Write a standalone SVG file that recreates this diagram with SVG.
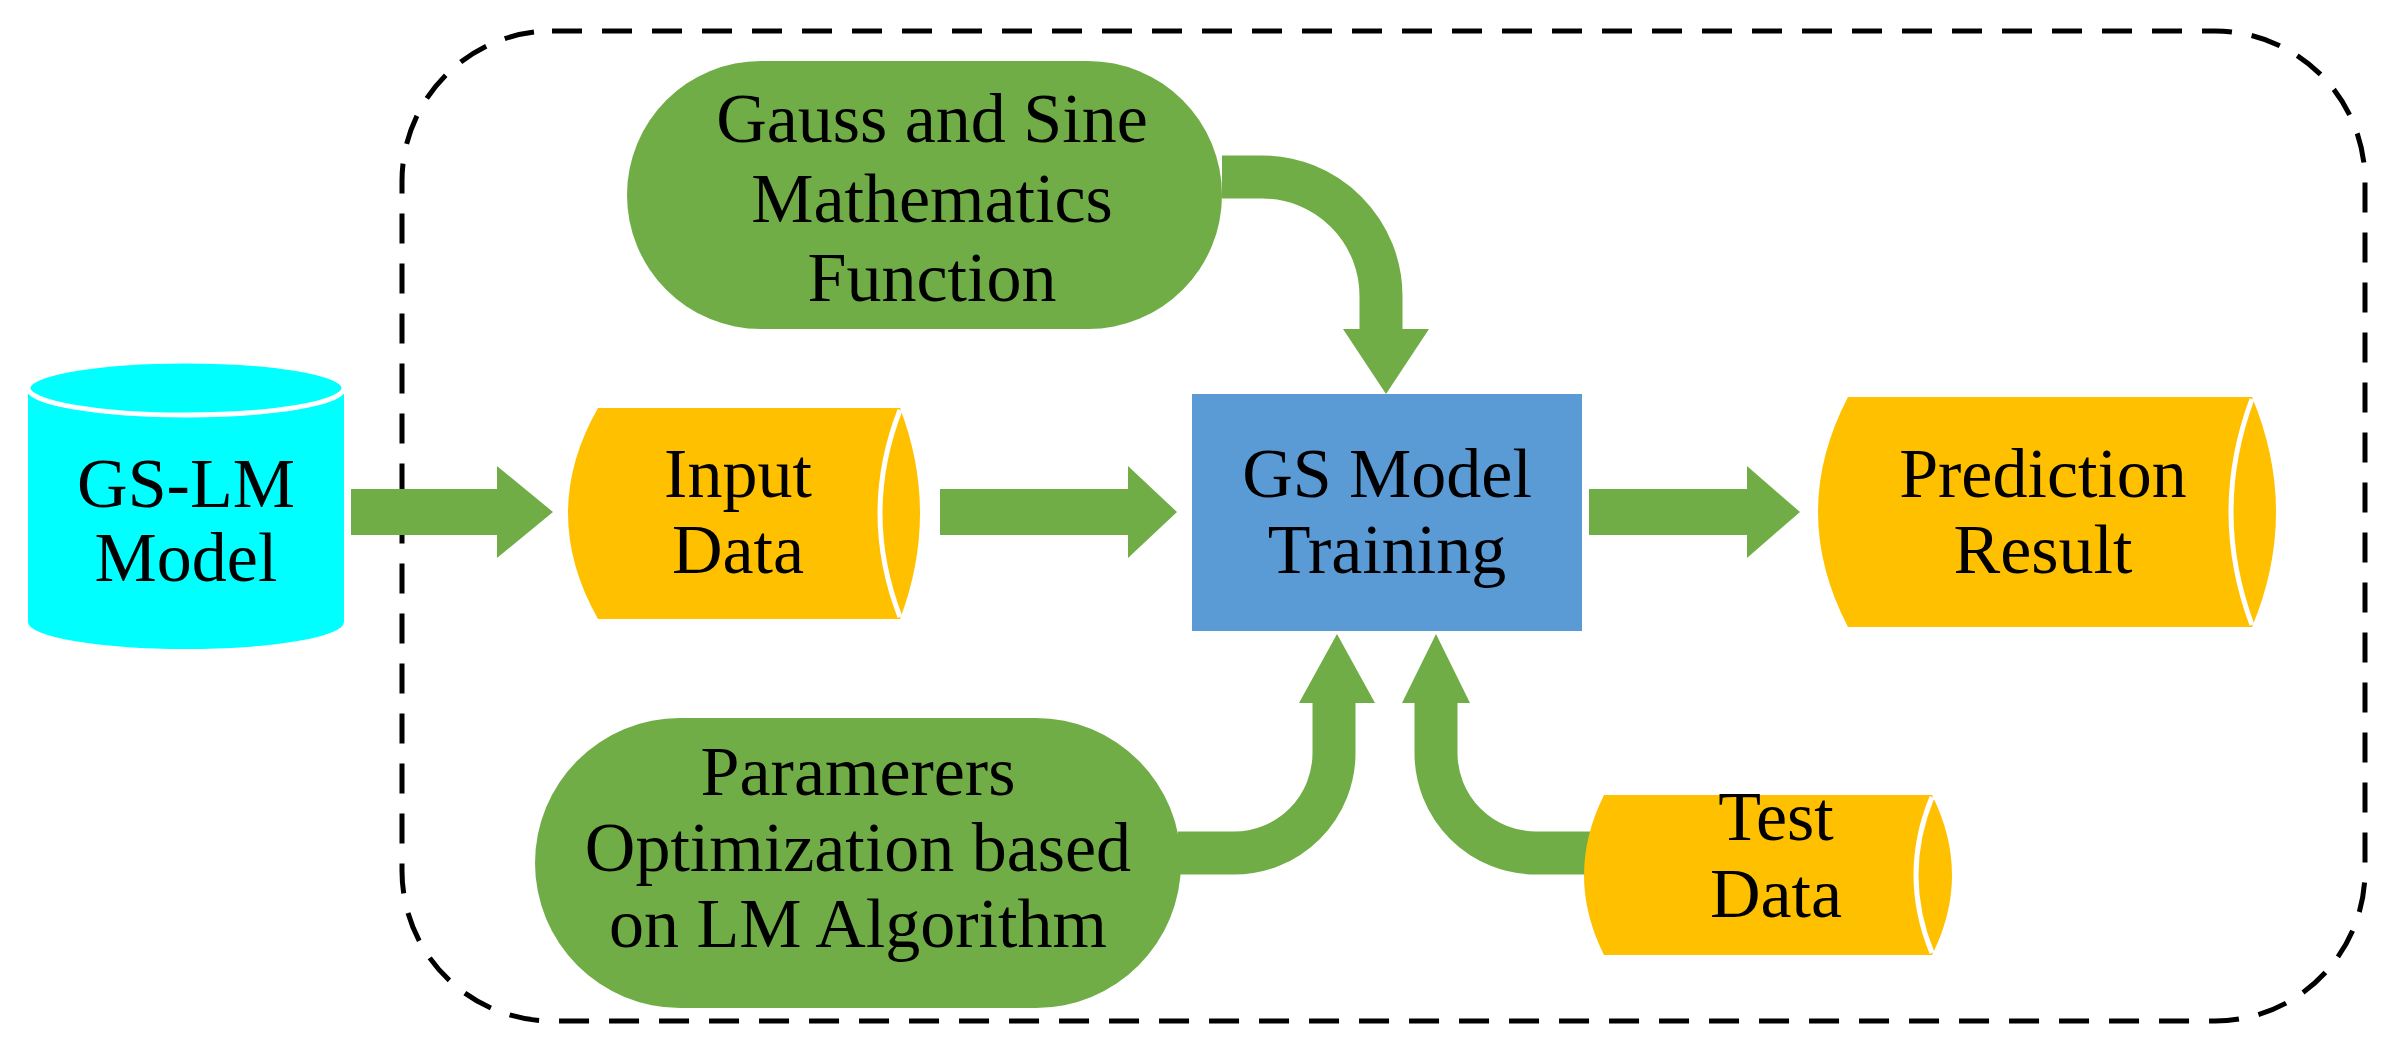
<svg xmlns="http://www.w3.org/2000/svg" width="2396" height="1057" viewBox="0 0 2396 1057">
<style>
.t{font-family:"Liberation Serif",serif;font-size:70px;fill:#000;text-anchor:middle}
.g{fill:#70AD47}
.o{fill:#FFC000}
.w{fill:none;stroke:#fff;stroke-width:5}
.c{fill:none;stroke:#70AD47;stroke-width:43}
</style>
<rect width="2396" height="1057" fill="#fff"/>
<rect x="402" y="31" width="1963" height="990" rx="150" fill="none" stroke="#000" stroke-width="5" stroke-dasharray="30 20"/>
<g id="connectors">
<polygon class="g" points="351,489 497,489 497,466 553,512 497,558 497,535 351,535"/>
<polygon class="g" points="940,489 1128,489 1128,466 1177,512 1128,558 1128,535 940,535"/>
<polygon class="g" points="1589,489 1747,489 1747,466 1800,512 1747,558 1747,535 1589,535"/>
<path class="c" d="M1222,177 H1262 A119,119 0 0 1 1381,296 V331"/>
<polygon class="g" points="1343,329 1429,329 1386,394"/>
<path class="c" d="M1178,853 H1234 A100,100 0 0 0 1334,753 V700"/>
<polygon class="g" points="1299,703 1375,703 1337,634"/>
<path class="c" d="M1600,853 H1536 A100,100 0 0 1 1436,753 V700"/>
<polygon class="g" points="1402,703 1470,703 1436,634"/>
</g>
<g id="gslm">
<rect x="28" y="388" width="316" height="234" fill="#00FFFF"/>
<ellipse cx="186" cy="622" rx="158" ry="27" fill="#00FFFF"/>
<ellipse cx="186" cy="388" rx="158" ry="27" fill="#00FFFF" stroke="#fff" stroke-width="5"/>
<text class="t" x="186" y="507">GS-LM</text>
<text class="t" x="186" y="581">Model</text>
</g>
<g id="input">
<path class="o" d="M598,408 H900 Q940,513 900,619 H598 Q538,513 598,408 Z"/>
<path class="w" d="M900,410 Q860,513 900,617"/>
<text class="t" x="738" y="497">Input</text>
<text class="t" x="738" y="573">Data</text>
</g>
<g id="training">
<rect x="1192" y="394" width="390" height="237" fill="#5B9BD5"/>
<text class="t" x="1387" y="497">GS Model</text>
<text class="t" x="1387" y="573">Training</text>
</g>
<g id="prediction">
<path class="o" d="M1848,397 H2252 Q2300,512 2252,627 H1848 Q1788,512 1848,397 Z"/>
<path class="w" d="M2252,399 Q2210,512 2252,625"/>
<text class="t" x="2043" y="497">Prediction</text>
<text class="t" x="2043" y="573">Result</text>
</g>
<g id="gauss">
<rect class="g" x="627" y="61" width="595" height="268" rx="134"/>
<text class="t" x="932" y="142">Gauss and Sine</text>
<text class="t" x="932" y="222">Mathematics</text>
<text class="t" x="932" y="301">Function</text>
</g>
<g id="params">
<rect class="g" x="535" y="718" width="646" height="290" rx="145"/>
<text class="t" x="858" y="795">Paramerers</text>
<text class="t" x="858" y="871">Optimization based</text>
<text class="t" x="858" y="947">on LM Algorithm</text>
</g>
<g id="test">
<path class="o" d="M1604,795 H1932 Q1972,875 1932,955 H1604 Q1564,875 1604,795 Z"/>
<path class="w" d="M1932,797 Q1900,875 1932,953"/>
<text class="t" x="1776" y="840">Test</text>
<text class="t" x="1776" y="917">Data</text>
</g>
</svg>
